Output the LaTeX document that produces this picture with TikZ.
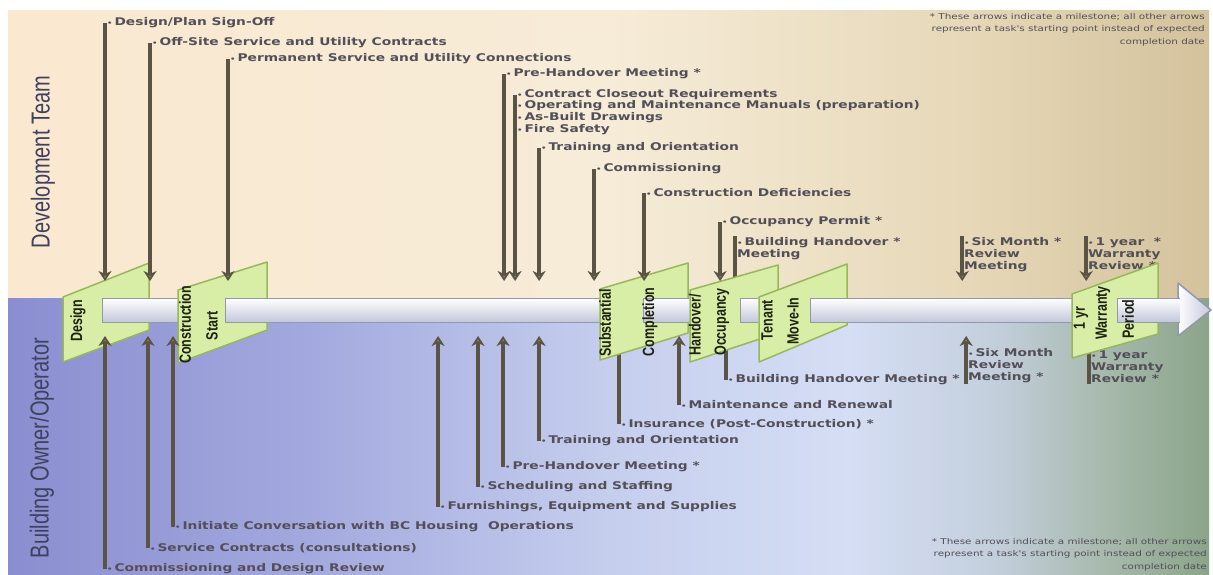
\documentclass[tikz,border=0pt]{standalone}
\usepackage{fontspec}
\setmainfont{Liberation Sans}
\newfontfamily\lblfont{DejaVu Sans}
\usetikzlibrary{arrows.meta}

\definecolor{devA}{HTML}{FBE8D0}
\definecolor{devB}{HTML}{F6ECD8}
\definecolor{devC}{HTML}{E6D8B8}
\definecolor{devD}{HTML}{D3C29C}
\definecolor{ownA}{HTML}{8A8ED0}
\definecolor{ownB}{HTML}{A3A9DE}
\definecolor{ownC}{HTML}{C6CEEE}
\definecolor{ownD}{HTML}{D5DEF4}
\definecolor{ownE}{HTML}{C4CFDD}
\definecolor{ownF}{HTML}{A8BAAE}
\definecolor{ownG}{HTML}{8BA489}
\definecolor{msfill}{HTML}{D8EEA6}
\definecolor{msedge}{HTML}{98B75C}
\definecolor{mstext}{HTML}{1E2212}
\definecolor{taskline}{HTML}{5B5343}
\definecolor{taskhead}{HTML}{8C8574}
\definecolor{lblgrey}{HTML}{524F58}
\definecolor{lanegrey}{HTML}{3E4260}
\definecolor{barlow}{HTML}{C3C8DA}
\definecolor{baredge}{HTML}{9298AE}

\pgfdeclarehorizontalshading{devband}{100bp}{color(0bp)=(devA); color(25bp)=(devA); color(50bp)=(devB); color(65bp)=(devC); color(75bp)=(devD); color(100bp)=(devD)}
\pgfdeclarehorizontalshading{ownband}{100bp}{color(0bp)=(ownA); color(25bp)=(ownA); color(37.5bp)=(ownB); color(50bp)=(ownC); color(60bp)=(ownD); color(66bp)=(ownE); color(70.5bp)=(ownF); color(75bp)=(ownG); color(100bp)=(ownG)}

\newcommand{\bul}{{\fontsize{6.5}{6.5}\selectfont\textbullet}\hspace{1.5pt}}

\tikzset{
  task/.style={font=\lblfont\bfseries\fontsize{10.6}{12}\selectfont, text=lblgrey, inner xsep=1.5pt, inner ysep=1pt, align=left},
  note/.style={font=\lblfont\fontsize{8}{12.5}\selectfont, text=lblgrey, align=right, inner sep=0pt},
  lane/.style={font=\fontsize{20}{20}\selectfont, text=lanegrey, rotate=90, inner sep=0pt},
  mstone/.style={fill=msfill, draw=msedge, line width=1.5pt, line join=round},
  mslbl/.style={font=\bfseries\fontsize{12.5}{12.5}\selectfont, text=mstext, rotate=90, inner sep=0pt},
  barbody/.style={top color=white, bottom color=barlow, draw=baredge, line width=1pt},
  downarr/.style={draw=taskline, line width=3.5pt, -{Stealth[length=10pt,width=13pt,inset=3pt,fill=taskhead]}},
  stub/.style={draw=taskline, line width=3.5pt}
}

\begin{document}
\begin{tikzpicture}[x=0.76923pt, y=-1pt, xscale=1.3, transform shape]
\useasboundingbox (0,0) rectangle (1213,574);
\fill[white] (0,0) rectangle (1213,574);
\shade[shading=devband] (8,10) rectangle (1209,298);
\shade[shading=ownband] (8,298) rectangle (1209,574);

% lanes and notes
\node[lane] (devTeam) at (43,162) {Development Team};
\node[lane] (owner) at (42,448) {Building Owner/Operator};
\node[note, anchor=north east] (noteTop) at (1205,13) {* These arrows indicate a milestone; all other arrows\\represent a task's starting point instead of expected\\completion date};
\node[note, anchor=south east] (noteBot) at (1207,571) {* These arrows indicate a milestone; all other arrows\\represent a task's starting point instead of expected\\completion date};

% timeline
\draw[left color=white, right color=barlow, draw=baredge, line width=1.5pt, line join=round] (1178,283) -- (1211,310) -- (1178,336) -- cycle;
\draw[barbody] (1180,298) -- (102,298) -- (102,322) -- (1180,322);

% development team tasks
\node[task, anchor=west] (tSign) at (105,23) {\bul Design/Plan Sign-Off};
\node[task, anchor=west] (tOffsite) at (150,43) {\bul Off-Site Service and Utility Contracts};
\node[task, anchor=west] (tPerm) at (228,59) {\bul Permanent Service and Utility Connections};
\node[task, anchor=west] (tPreDev) at (504,74) {\bul Pre-Handover Meeting *};
\node[task, anchor=west] (tClose) at (515,95) {\bul Contract Closeout Requirements};
\node[task, anchor=west] (tManual) at (515,106) {\bul Operating and Maintenance Manuals (preparation)};
\node[task, anchor=west] (tBuilt) at (515,118) {\bul As-Built Drawings};
\node[task, anchor=west] (tFire) at (515,130) {\bul Fire Safety};
\node[task, anchor=west] (tTrainDev) at (539,148) {\bul Training and Orientation};
\node[task, anchor=west] (tComm) at (594,169) {\bul Commissioning};
\node[task, anchor=west] (tDefic) at (644,193) {\bul Construction Deficiencies};
\node[task, anchor=west] (tPermit) at (720,222) {\bul Occupancy Permit *};
\node[task, anchor=north west] (tHandDev) at (735,236) {\bul Building Handover *\\Meeting};
\node[task, anchor=north west] (tSixDev) at (962,236) {\bul Six Month *\\Review\\Meeting};
\node[task, anchor=north west] (tYearDev) at (1086,236) {\bul 1 year~~*\\Warranty\\Review *};

% owner tasks
\node[task, anchor=west] (bCommDes) at (105,569) {\bul Commissioning and Design Review};
\node[task, anchor=west] (bServ) at (148,548) {\bul Service Contracts (consultations)};
\node[task, anchor=west] (bInit) at (173,527) {\bul Initiate Conversation with BC Housing~~Operations};
\node[task, anchor=west] (bFurn) at (438,507) {\bul Furnishings, Equipment and Supplies};
\node[task, anchor=west] (bSched) at (478,487) {\bul Scheduling and Staffing};
\node[task, anchor=west] (bPre) at (503,467) {\bul Pre-Handover Meeting *};
\node[task, anchor=west] (bTrain) at (539,441) {\bul Training and Orientation};
\node[task, anchor=west] (bIns) at (619,424) {\bul Insurance (Post-Construction) *};
\node[task, anchor=west] (bMaint) at (679,405) {\bul Maintenance and Renewal};
\node[task, anchor=west] (bHand) at (726,380) {\bul Building Handover Meeting *};
\node[task, anchor=south west] (bSix) at (966,384) {\bul Six Month\\Review\\Meeting *};
\node[task, anchor=south west] (bYear) at (1089,384) {\bul 1 year\\Warranty\\Review *};

\coordinate (uprow) at (0,281);
\coordinate (lowrow) at (0,336);

% lines that run behind the milestones
\draw[stub] (tHandDev.north west) -- (tHandDev.north west |- uprow);
\draw[stub] (bIns.west) -- (bIns.west |- lowrow);
\draw[stub] (bHand.west) -- (bHand.west |- lowrow);
\draw[stub] (bYear.south west) -- (bYear.south west |- lowrow);

% milestones
\draw[mstone] (63,297) -- (149,263) -- (149,330) -- (63,362) -- cycle;
\draw[mstone] (178,290) -- (267,262) -- (267,330) -- (178,363) -- cycle;
\draw[mstone] (600,289) -- (688,263) -- (688,333) -- (600,360) -- cycle;
\draw[mstone] (690,290) -- (778,265) -- (778,333) -- (690,362) -- cycle;
\draw[mstone] (759,297) -- (847,264) -- (847,325) -- (759,362) -- cycle;
\draw[mstone] (1072,294) -- (1158,263) -- (1158,334) -- (1072,358) -- cycle;

% bar passing in front
\foreach \a/\b in {102/150, 225/268, 643/689, 740/758, 810/848, 1117/1159}
  \draw[barbody] (\b,298) -- (\a,298) -- (\a,322) -- (\b,322);

\node[mslbl] (msDesign) at (78,321) {Design};
\node[mslbl] (msCons) at (185,325) {Construction};
\node[mslbl] (msStart) at (212,326) {Start};
\node[mslbl] (msSubst) at (605,323) {Substantial};
\node[mslbl] (msCompl) at (650,322) {Completion};
\node[mslbl] (msHand) at (695,325) {Handover/};
\node[mslbl] (msOcc) at (722,322) {Occupancy};
\node[mslbl] (msTen) at (767,320) {Tenant};
\node[mslbl] (msMove) at (793,321) {Move-In};
\node[mslbl] (msYr) at (1081,318) {1 yr};
\node[mslbl] (msWarr) at (1103,313) {Warranty};
\node[mslbl] (msPer) at (1128,319) {Period};

% arrows
\foreach \n in {tSign, tOffsite, tPerm, tPreDev, tClose, tTrainDev, tComm, tDefic, tPermit}
  \draw[downarr] (\n.west) -- (\n.west |- uprow);
\draw[downarr] (tSixDev.north west) -- (tSixDev.north west |- uprow);
\draw[downarr] (tYearDev.north west) -- (tYearDev.north west |- uprow);
\foreach \n in {bCommDes, bServ, bInit, bFurn, bSched, bPre, bTrain, bMaint}
  \draw[downarr] (\n.west) -- (\n.west |- lowrow);
\draw[downarr] (bSix.south west) -- (bSix.south west |- lowrow);
\end{tikzpicture}
\end{document}
